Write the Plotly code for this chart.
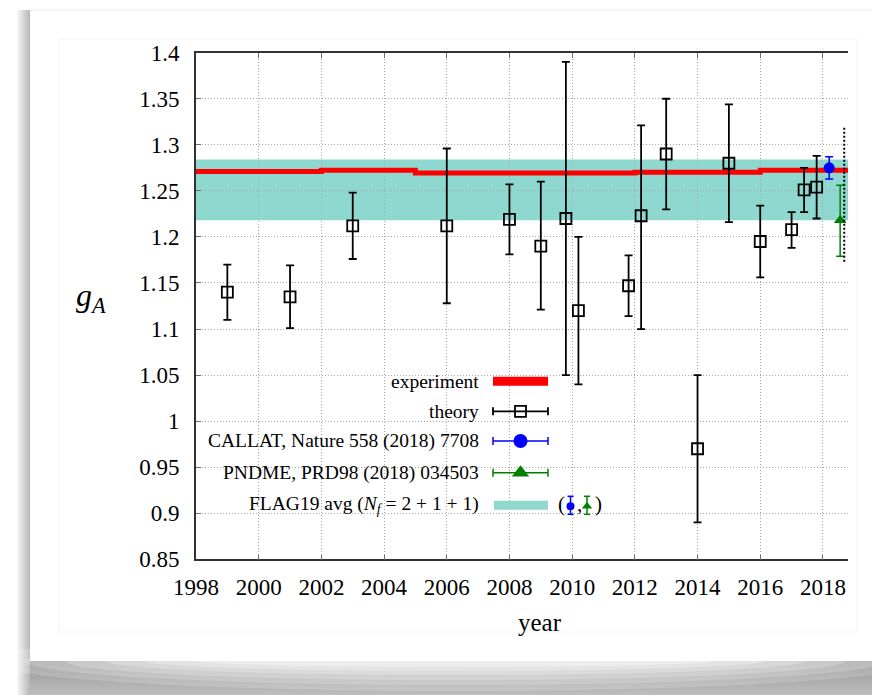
import plotly.graph_objects as go

# ---------------- data ----------------
theory_year = [1999, 2001, 2003, 2006, 2008, 2009, 2009.8, 2010.2, 2011.8, 2012.2,
               2013, 2014, 2015, 2016, 2017, 2017.4, 2017.8]
theory_gA = [1.140, 1.135, 1.212, 1.212, 1.219, 1.190, 1.220, 1.120, 1.147, 1.223,
             1.290, 0.970, 1.280, 1.195, 1.208, 1.251, 1.254]
theory_err_plus = [0.030, 0.034, 0.036, 0.084, 0.038, 0.070, 0.170, 0.080, 0.033, 0.098,
                   0.060, 0.080, 0.064, 0.039, 0.019, 0.024, 0.034]
theory_err_minus = [0.030, 0.034, 0.036, 0.084, 0.038, 0.069, 0.170, 0.080, 0.033, 0.123,
                    0.060, 0.080, 0.064, 0.039, 0.020, 0.024, 0.034]

callat_year = [2018.2]
callat_gA = [1.275]
callat_err = [0.012]

pndme_year = [2018.55]
pndme_gA = [1.218]
pndme_err_plus = [0.038]
pndme_err_minus = [0.039]

exp_year = [1998, 2002, 2005, 2012, 2016, 2018.8]
exp_gA = [1.2711, 1.2723, 1.2694, 1.2701, 1.2724, 1.2724]

flag_center = 1.251
flag_err = 0.033

dotted_year = [2018.68, 2018.68]
dotted_gA = [1.173, 1.320]

x_ticks = list(range(1998, 2019, 2))
y_ticks = [0.85, 0.9, 0.95, 1.0, 1.05, 1.1, 1.15, 1.2, 1.25, 1.3, 1.35, 1.4]
y_ticktext = ["0.85", "0.9", "0.95", "1", "1.05", "1.1", "1.15", "1.2", "1.25", "1.3", "1.35", "1.4"]

legend_labels = ["experiment", "theory", "CALLAT, Nature 558 (2018) 7708",
                 "PNDME, PRD98 (2018) 034503",
                 "FLAG19 avg (<i>N</i><sub><i>f</i></sub> = 2 + 1 + 1)"]

# ---------------- layout helpers ----------------
W, H = 872, 695
SERIF = "Liberation Serif, Times New Roman, serif"
TEAL = "rgb(143,216,208)"
RED = "rgb(255,0,0)"
BLUE = "rgb(0,0,255)"
GREEN = "rgb(0,128,0)"

def px(x):
    return x / W

def py(y):
    return 1 - y / H

fig = go.Figure()

# ---------------- card & shadow decoration (drawn first) ----------------
shapes = []
def rect(x0, y0, x1, y1, color, opacity=1.0):
    shapes.append(dict(type="rect", xref="paper", yref="paper",
                       x0=px(x0), x1=px(x1), y0=py(y1), y1=py(y0),
                       fillcolor=color, opacity=opacity, line_width=0, layer="below"))

for i in range(34):
    y0 = 661 + i
    g = int(150 + 40 * (i / 33))
    rect(17, y0, W, y0 + 1, f"rgb({g},{g},{g})")
for i in range(13):
    x0 = 17 + i
    g = int(245 - i * 5)
    rect(x0, 10, x0 + 1, 695, f"rgb({g},{g},{g})")
for rx, ry, op in [(470, 30, 0.18), (430, 24, 0.2), (390, 19, 0.22), (350, 14, 0.25),
                   (310, 10, 0.3), (260, 6, 0.35)]:
    shapes.append(dict(type="circle", xref="paper", yref="paper",
                       x0=px(455 - rx), x1=px(455 + rx), y0=py(661 + ry), y1=py(661 - ry),
                       fillcolor="white", opacity=op, line_width=0, layer="below"))
rect(30, 10, W, 661, "white")
shapes.append(dict(type="line", xref="paper", yref="paper", x0=px(30), x1=px(W), y0=py(10), y1=py(10),
                   line=dict(color="rgb(235,235,235)", width=1), layer="below"))
shapes.append(dict(type="rect", xref="paper", yref="paper", x0=px(59), x1=px(857), y0=py(632), y1=py(39),
                   line=dict(color="rgb(244,244,244)", width=1), fillcolor="rgba(0,0,0,0)", layer="below"))

# FLAG band
shapes.append(dict(type="rect", xref="x domain", yref="y", x0=0, x1=1,
                   y0=flag_center - flag_err, y1=flag_center + flag_err,
                   fillcolor=TEAL, line_width=0, layer="below"))

# experiment
fig.add_trace(go.Scatter(x=exp_year, y=exp_gA, mode="lines", line=dict(color=RED, width=5, shape="hv"),
                         showlegend=False, hoverinfo="skip"))

# theory
fig.add_trace(go.Scatter(
    x=theory_year, y=theory_gA, mode="markers",
    marker=dict(symbol="square-open", size=11, color="black", line=dict(width=1.8, color="black")),
    error_y=dict(type="data", array=theory_err_plus, arrayminus=theory_err_minus,
                 color="black", thickness=1.8, width=4),
    showlegend=False))

# CALLAT
fig.add_trace(go.Scatter(
    x=callat_year, y=callat_gA, mode="markers",
    marker=dict(symbol="circle", size=11, color=BLUE),
    error_y=dict(type="data", array=callat_err, color=BLUE, thickness=1.5, width=4),
    showlegend=False))

# PNDME
fig.add_trace(go.Scatter(
    x=pndme_year, y=pndme_gA, mode="markers",
    marker=dict(symbol="triangle-up", size=11, color=GREEN),
    error_y=dict(type="data", array=pndme_err_plus, arrayminus=pndme_err_minus,
                 color=GREEN, thickness=1.5, width=4),
    showlegend=False))

# dotted vertical line at right edge
fig.add_trace(go.Scatter(x=dotted_year, y=dotted_gA, mode="lines",
                         line=dict(color="black", width=2, dash="2px,2px"),
                         showlegend=False, hoverinfo="skip"))

# ---------------- custom legend (pixel overlay axis) ----------------
rows = [381.3, 411.3, 441.0, 472.7, 505.3]
gx0, gx1, gxc = 493, 548, 520.5

def ov(**kw):
    kw.setdefault("showlegend", False)
    kw.setdefault("hoverinfo", "skip")
    fig.add_trace(go.Scatter(xaxis="x2", yaxis="y2", **kw))

ov(x=[gx0, gx1], y=[rows[0], rows[0]], mode="lines", line=dict(color=RED, width=9))
for color, sym, size, r, lw in [("black", "square-open", 11, rows[1], 1.8),
                                (BLUE, "circle", 14, rows[2], 1.5),
                                (GREEN, "triangle-up", 15, rows[3], 1.5)]:
    ov(x=[gx0, gx1], y=[r, r], mode="lines", line=dict(color=color, width=lw))
    for cx in (gx0, gx1):
        ov(x=[cx, cx], y=[r - 4, r + 4], mode="lines", line=dict(color=color, width=lw))
    ov(x=[gxc], y=[r], mode="markers",
       marker=dict(symbol=sym, size=size, color=color,
                   line=dict(width=1.8 if sym == "square-open" else 0, color=color)))
ov(x=[gx0 + 1, gx1], y=[rows[4], rows[4]], mode="lines", line=dict(color=TEAL, width=9))
for cx, color, sym, size in [(570.5, BLUE, "circle", 8), (587, GREEN, "triangle-up", 9)]:
    ov(x=[cx, cx], y=[rows[4] - 9, rows[4] + 9], mode="lines", line=dict(color=color, width=1.5))
    for yy in (rows[4] - 9, rows[4] + 9):
        ov(x=[cx - 3, cx + 3], y=[yy, yy], mode="lines", line=dict(color=color, width=1.5))
    ov(x=[cx], y=[rows[4] + 1], mode="markers", marker=dict(symbol=sym, size=size, color=color))

annotations = []
for lab, r in zip(legend_labels, rows):
    annotations.append(dict(text=lab, x=px(481), y=py(r), xref="paper", yref="paper",
                            xanchor="right", yanchor="middle", showarrow=False,
                            font=dict(family=SERIF, size=19.5, color="black")))
for t, xx in [("(", 561), (",", 579), (")", 598)]:
    annotations.append(dict(text=t, x=px(xx), y=py(rows[4] - 1), xref="paper", yref="paper",
                            xanchor="center", yanchor="middle", showarrow=False,
                            font=dict(family=SERIF, size=21, color="black")))

annotations.append(dict(text="<i>g</i><sub><i>A</i></sub>", x=px(91), y=py(298), xref="paper", yref="paper",
                        xanchor="center", yanchor="middle", showarrow=False,
                        font=dict(family=SERIF, size=32, color="black")))
annotations.append(dict(text="year", x=px(540), y=py(622), xref="paper", yref="paper",
                        xanchor="center", yanchor="middle", showarrow=False,
                        font=dict(family=SERIF, size=25, color="black")))

axis_common = dict(showline=True, linecolor="rgb(50,50,50)", linewidth=1.6,
                   ticks="inside", ticklen=5, tickcolor="rgb(110,110,110)", tickwidth=1.2,
                   showgrid=True, gridcolor="rgb(165,165,165)", gridwidth=1, griddash="1px,2px",
                   zeroline=False, automargin=False,
                   tickfont=dict(family=SERIF, size=23, color="black"))

fig.update_layout(
    width=W, height=H,
    margin=dict(l=0, r=0, t=0, b=0, pad=0, autoexpand=False),
    paper_bgcolor="white", plot_bgcolor="rgba(0,0,0,0)",
    showlegend=False,
    xaxis=dict(domain=[px(196), px(848)], range=[1998, 2018.8], tickvals=x_ticks,
               mirror="ticks", ticklabelstandoff=6, anchor="y", **axis_common),
    yaxis=dict(domain=[py(559.3), py(52.7)], range=[0.85, 1.4], tickvals=y_ticks, ticktext=y_ticktext,
               mirror=False, ticklabelstandoff=10, anchor="x", **axis_common),
    xaxis2=dict(domain=[0, 1], range=[0, W], visible=False, anchor="y2", fixedrange=True),
    yaxis2=dict(domain=[0, 1], range=[H, 0], visible=False, anchor="x2", fixedrange=True),
    annotations=annotations,
    shapes=shapes,
)

fig.write_html("out.html")
